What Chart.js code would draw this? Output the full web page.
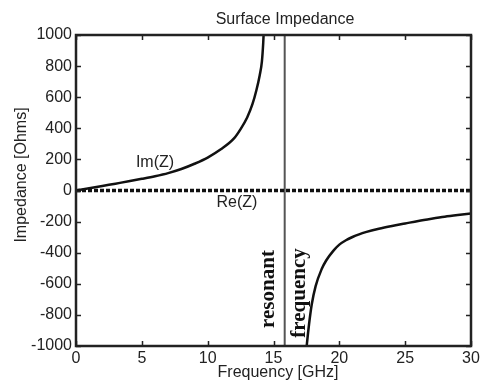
<!DOCTYPE html>
<html>
<head>
<meta charset="utf-8">
<script src="https://cdn.jsdelivr.net/npm/chart.js@4.4.1/dist/chart.umd.min.js"></script>
<style>
    html, body { margin: 0; padding: 0; background: #fff; }
    #box { width: 485px; height: 383px; }
</style>
</head>
<body>
<div id="box"><canvas id="grafico"></canvas></div>
<script>
// 1. DADOS
const imBaixoFreq = [0, 1, 2, 3, 4, 5, 6, 7, 8, 9, 10, 11, 12, 12.5, 13, 13.4, 13.7, 13.95, 14.12, 14.22, 14.28];
const imBaixoVal  = [0, 14, 29, 44, 59, 75, 92, 112, 138, 172, 212, 265, 335, 395, 470, 555, 645, 740, 830, 950, 1060];

const imAltoFreq = [17.45, 17.52, 17.7, 17.9, 18.2, 18.66, 19, 19.54, 20, 20.5, 21, 21.5, 22, 23, 24, 25, 26, 27, 28, 29, 30];
const imAltoVal  = [-1060, -1000, -860, -735, -615, -505, -450, -388, -348, -320, -299, -282, -268, -246, -228, -212, -196, -182, -169, -158, -148];

const reFreq = [0, 30];
const reVal  = [0, 0];

const ressonancia = 15.85;
const limiteY = [-1000, 1000];

const ticksX = [0, 5, 10, 15, 20, 25, 30];
const ticksY = [-1000, -800, -600, -400, -200, 0, 200, 400, 600, 800, 1000];

const pontos = (xs, ys) => xs.map((x, i) => ({ x: x, y: ys[i] }));

// 2. PLUGIN: moldura, ticks internos e textos
const extras = {
    id: 'extras',
    afterDatasetsDraw(chart) {
        const ctx = chart.ctx;
        const a = chart.chartArea;
        const sx = chart.scales.x;
        const sy = chart.scales.y;
        ctx.save();

        ctx.strokeStyle = '#222';
        ctx.lineWidth = 1.5;
        ticksX.forEach(v => {
            const px = Math.round(sx.getPixelForValue(v)) + 0.5;
            ctx.beginPath();
            ctx.moveTo(px, a.bottom); ctx.lineTo(px, a.bottom - 5);
            ctx.moveTo(px, a.top); ctx.lineTo(px, a.top + 5);
            ctx.stroke();
        });
        ticksY.forEach(v => {
            const py = Math.round(sy.getPixelForValue(v)) + 0.5;
            ctx.beginPath();
            ctx.moveTo(a.left, py); ctx.lineTo(a.left + 5, py);
            ctx.moveTo(a.right, py); ctx.lineTo(a.right - 5, py);
            ctx.stroke();
        });

        ctx.lineWidth = 2.5;
        ctx.strokeRect(a.left, a.top, a.right - a.left, a.bottom - a.top);

        ctx.fillStyle = '#222';
        ctx.textAlign = 'center';
        ctx.textBaseline = 'middle';
        ctx.font = '16px "Liberation Sans", Arial, sans-serif';
        ctx.fillText('Surface Impedance', 285, 20);
        ctx.fillText('Frequency [GHz]', 278, 373);
        ctx.fillText('Im(Z)', 155, 163);
        ctx.fillText('Re(Z)', 237, 203);

        ctx.save();
        ctx.translate(22, 175);
        ctx.rotate(-Math.PI / 2);
        ctx.fillText('Impedance [Ohms]', 0, 0);
        ctx.restore();

        ctx.font = 'bold 21px "Liberation Serif", "Times New Roman", serif';
        ctx.fillStyle = '#111';
        ctx.save();
        ctx.translate(269, 289);
        ctx.rotate(-Math.PI / 2);
        ctx.fillText('resonant', 0, 0);
        ctx.restore();
        ctx.save();
        ctx.translate(300, 293);
        ctx.rotate(-Math.PI / 2);
        ctx.fillText('frequency', 0, 0);
        ctx.restore();

        ctx.restore();
    }
};

// 3. GRAFICO
const fonteEixo = { size: 16, family: '"Liberation Sans", Arial, sans-serif' };

new Chart(document.getElementById('grafico'), {
    type: 'line',
    data: {
        datasets: [
            { label: 'Re(Z)', data: pontos(reFreq, reVal), borderColor: '#111', borderWidth: 3.5, borderDash: [4, 2], pointRadius: 0 },
            { label: 'Im(Z) baixo', data: pontos(imBaixoFreq, imBaixoVal), borderColor: '#111', borderWidth: 2.5, pointRadius: 0, cubicInterpolationMode: 'monotone' },
            { label: 'Im(Z) alto', data: pontos(imAltoFreq, imAltoVal), borderColor: '#111', borderWidth: 2.5, pointRadius: 0, cubicInterpolationMode: 'monotone' },
            { label: 'ressonancia', data: pontos([ressonancia, ressonancia], limiteY), borderColor: '#555', borderWidth: 2, pointRadius: 0 }
        ]
    },
    options: {
        responsive: true,
        maintainAspectRatio: false,
        animation: false,
        layout: { padding: { left: 0, right: 14, top: 35, bottom: 0 } },
        plugins: { legend: { display: false }, tooltip: { enabled: false }, title: { display: false } },
        scales: {
            x: {
                type: 'linear', min: 0, max: 30,
                afterFit: s => { s.height = 37; },
                afterBuildTicks: s => { s.ticks = ticksX.map(v => ({ value: v })); },
                grid: { display: false, drawTicks: false },
                border: { display: false },
                ticks: { color: '#222', padding: 3, maxRotation: 0, font: fonteEixo, callback: v => String(v) }
            },
            y: {
                type: 'linear', min: -1000, max: 1000,
                afterFit: s => { s.width = 76; },
                afterBuildTicks: s => { s.ticks = ticksY.map(v => ({ value: v })); },
                grid: { display: false, drawTicks: false },
                border: { display: false },
                ticks: { color: '#222', padding: 4, font: fonteEixo, callback: v => String(v) }
            }
        }
    },
    plugins: [extras]
});
</script>
</body>
</html>
